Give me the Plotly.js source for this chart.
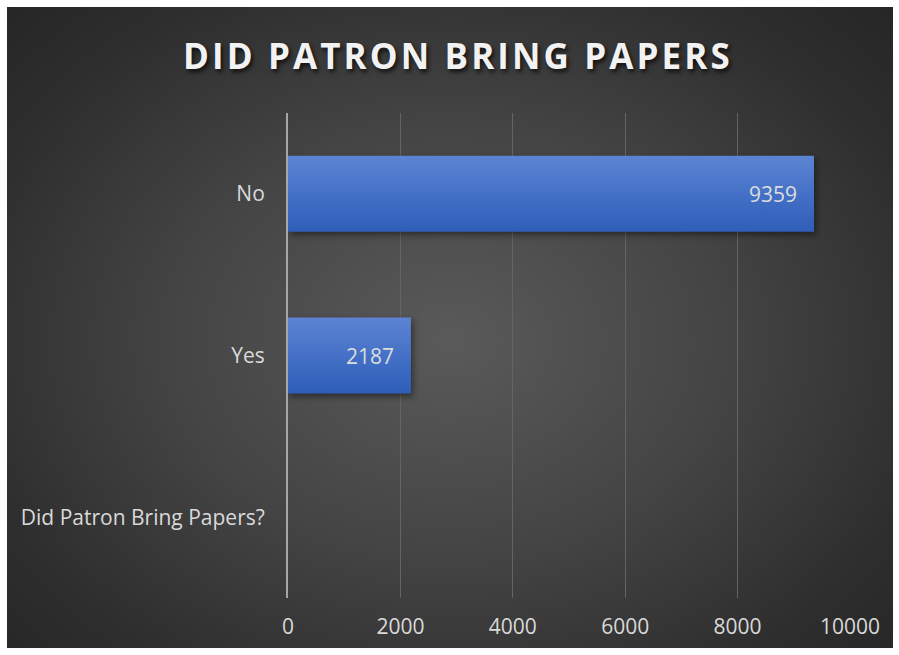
<!DOCTYPE html>
<html>
<head>
<meta charset="utf-8">
<script src="https://cdn.plot.ly/plotly-3.0.1.min.js"></script>
<style>
  html, body { margin: 0; padding: 0; background: #ffffff; width: 899px; height: 655px; overflow: hidden; }
  #frame {
    position: absolute; left: 7px; top: 7px; width: 886px; height: 641px;
    background: radial-gradient(ellipse 70% 75% at 50% 52%, #5a5a5a 0%, #444444 45%, #2e2e2e 80%, #262626 100%);
  }
  #chart { width: 886px; height: 641px; }
  .gtitle { letter-spacing: 3.1px; }
  .bars .point path { filter: drop-shadow(2px 3px 3px rgba(0,0,0,0.45)); }
</style>
</head>
<body>
<div id="frame"><div id="chart"></div></div>
<script>
const chartTitle = "DID PATRON BRING PAPERS";
const categories = ["Did Patron Bring Papers?", "Yes", "No"];
const counts = [null, 2187, 9359];
const countLabels = ["", "2187", "9359"];
const xTicks = [0, 2000, 4000, 6000, 8000, 10000];

const trace = {
  type: "bar",
  orientation: "h",
  y: categories,
  x: counts,
  marker: { color: "#4570c5", line: { width: 0 } },
  hoverinfo: "skip"
};

const annotations = [];
categories.forEach((c, i) => {
  if (counts[i] === null) return;
  annotations.push({
    x: counts[i], y: c, xref: "x", yref: "y",
    text: countLabels[i], showarrow: false,
    xanchor: "right", yanchor: "middle", xshift: -15,
    font: { family: "Open Sans, sans-serif", size: 21, color: "#dcdcdc" }
  });
});

const layout = {
  width: 886, height: 641,
  paper_bgcolor: "rgba(0,0,0,0)",
  plot_bgcolor: "rgba(0,0,0,0)",
  margin: { l: 281, r: 43, t: 106, b: 50 },
  bargap: 0.53,
  showlegend: false,
  annotations: annotations,
  title: {
    text: "<b>" + chartTitle + "</b>",
    x: 0.509, xanchor: "center",
    y: 0.922, yanchor: "middle",
    font: { family: "Open Sans, sans-serif", size: 35, color: "#f2f2f2", shadow: "2px 3px 4px rgba(0,0,0,0.7)" }
  },
  xaxis: {
    range: [0, 10000],
    tickvals: xTicks,
    ticktext: xTicks.map(String),
    showgrid: true, gridcolor: "#646464", gridwidth: 1,
    zeroline: false, showline: false,
    ticks: "",
    tickfont: { family: "Open Sans, sans-serif", size: 21, color: "#d9d9d9" },
    ticklabelstandoff: 14,
    fixedrange: true
  },
  yaxis: {
    type: "category",
    categoryorder: "array",
    categoryarray: categories,
    showgrid: false,
    showline: true, linecolor: "#a6a6a6", linewidth: 2,
    ticks: "",
    ticklabelstandoff: 17,
    tickfont: { family: "Open Sans, sans-serif", size: 21, color: "#d9d9d9" },
    fixedrange: true
  }
};

Plotly.newPlot("chart", [trace], layout, { displayModeBar: false, staticPlot: true }).then(gd => {
  // vertical gradient fill for the bars (styling only)
  const svg = gd.querySelector("svg.main-svg");
  const ns = "http://www.w3.org/2000/svg";
  let defs = svg.querySelector("defs");
  if (!defs) { defs = document.createElementNS(ns, "defs"); svg.insertBefore(defs, svg.firstChild); }
  const lg = document.createElementNS(ns, "linearGradient");
  lg.setAttribute("id", "barGrad");
  lg.setAttribute("x1", "0"); lg.setAttribute("y1", "0");
  lg.setAttribute("x2", "0"); lg.setAttribute("y2", "1");
  [["0", "#5d84d2"], ["0.5", "#4471c7"], ["1", "#2f5eb8"]].forEach(([o, c]) => {
    const s = document.createElementNS(ns, "stop");
    s.setAttribute("offset", o); s.setAttribute("stop-color", c);
    lg.appendChild(s);
  });
  defs.appendChild(lg);
  gd.querySelectorAll(".bars .point path").forEach(p => { p.style.fill = "url(#barGrad)"; });
});
</script>
</body>
</html>
